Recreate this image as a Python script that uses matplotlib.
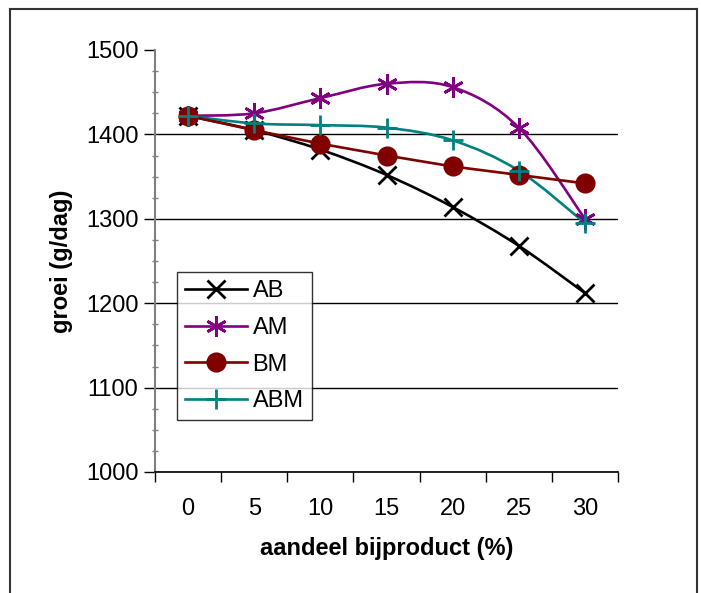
import matplotlib
matplotlib.use("Agg")
import matplotlib.pyplot as plt
from matplotlib.path import Path
from matplotlib.patches import PathPatch
from matplotlib.lines import Line2D

plt.rcParams["font.family"] = ["Liberation Sans", "DejaVu Sans"]

# data
categorieen = ["0", "5", "10", "15", "20", "25", "30"]
ab = [1422, 1405, 1382, 1352, 1314, 1268, 1212]
am = [1422, 1425, 1443, 1460, 1456, 1408, 1300]
bm = [1422, 1405, 1389, 1375, 1362, 1352, 1342]
abm = [1422, 1413, 1411, 1408, 1393, 1357, 1295]

reeksen = [
    ("AB", ab, "black", "x", True),
    ("AM", am, "#800080", (6, 2, 0), True),
    ("BM", bm, "#800000", "o", False),
    ("ABM", abm, "#008080", "+", True),
]
markergrootte = {"AB": 13, "AM": 15, "BM": 12.5, "ABM": 14}


def gladde_lijn(xs, ys):
    # Excel-achtige gladde lijn: bezier door de punten
    n = len(xs)
    verts = [(xs[0], ys[0])]
    codes = [Path.MOVETO]
    for i in range(n - 1):
        x0, y0 = xs[max(i - 1, 0)], ys[max(i - 1, 0)]
        x1, y1 = xs[i], ys[i]
        x2, y2 = xs[i + 1], ys[i + 1]
        x3, y3 = xs[min(i + 2, n - 1)], ys[min(i + 2, n - 1)]
        c1 = (x1 + (x2 - x0) / 6, y1 + (y2 - y0) / 6)
        c2 = (x2 - (x3 - x1) / 6, y2 - (y3 - y1) / 6)
        verts += [c1, c2, (x2, y2)]
        codes += [Path.CURVE4] * 3
    return Path(verts, codes)


fig = plt.figure(figsize=(7.02, 5.93), dpi=100)
ax = fig.add_axes([155 / 702, 1 - 472 / 593, (618 - 155) / 702, (472 - 50) / 593])

x = list(range(len(categorieen)))
handles = []
for naam, waarden, kleur, marker, glad in reeksen:
    if glad:
        ax.add_patch(PathPatch(gladde_lijn(x, waarden), fill=False,
                               edgecolor=kleur, lw=1.9, zorder=3))
        ls = "none"
    else:
        ls = "-"
    ms = markergrootte[naam]
    ax.plot(x, waarden, linestyle=ls, color=kleur, lw=1.9, marker=marker,
            ms=ms, mew=2, mfc=kleur, mec=kleur, zorder=4)
    handles.append(Line2D([], [], color=kleur, lw=1.9, marker=marker,
                          ms=ms, mew=2, mfc=kleur, mec=kleur, label=naam))

ax.set_xlim(-0.5, len(categorieen) - 0.5)
ax.set_ylim(1000, 1500)
ax.set_xticks(x)
ax.set_xticklabels(categorieen)
ax.set_xticks([i - 0.5 for i in range(len(categorieen) + 1)], minor=True)
ax.set_yticks(range(1000, 1501, 100))
ax.set_yticks(range(1000, 1501, 25), minor=True)

ax.tick_params(axis="x", which="major", length=0, pad=19, labelsize=17)
ax.tick_params(axis="x", which="minor", length=7, width=1, direction="out")
ax.tick_params(axis="y", which="major", length=8, width=1, pad=4, labelsize=17)
ax.tick_params(axis="y", which="minor", length=4, width=1, direction="inout",
               color="#808080")

ax.yaxis.grid(True, which="major", color="black", lw=1)
ax.yaxis.get_gridlines()[-1].set_visible(False)

for kant in ["top", "right"]:
    ax.spines[kant].set_visible(False)
ax.spines["left"].set_color("#808080")
ax.spines["left"].set_linewidth(1.5)
ax.spines["bottom"].set_linewidth(1.2)

ax.set_xlabel("aandeel bijproduct (%)", fontsize=17, fontweight="bold", labelpad=12)
ax.set_ylabel("groei (g/dag)", fontsize=17, fontweight="bold", labelpad=9)

leg = ax.legend(handles=handles, loc="upper left", bbox_to_anchor=(22 / 463, 1 - 222 / 422),
                fontsize=17, frameon=True, fancybox=False, edgecolor="black",
                handlelength=2.6, handletextpad=0.25, labelspacing=0.62,
                borderpad=0.35, borderaxespad=0)
leg.get_frame().set_linewidth(1)

# kader rond de figuur (onderkant valt weg)
for xs, ys in [([10 / 702, 10 / 702], [0, 1 - 9 / 593]),
               ([10 / 702, 697 / 702], [1 - 9 / 593, 1 - 9 / 593]),
               ([697 / 702, 697 / 702], [1 - 9 / 593, 0])]:
    fig.add_artist(Line2D(xs, ys, color="#333333", lw=1.5, transform=fig.transFigure))

fig.savefig("out.png", dpi=100)
